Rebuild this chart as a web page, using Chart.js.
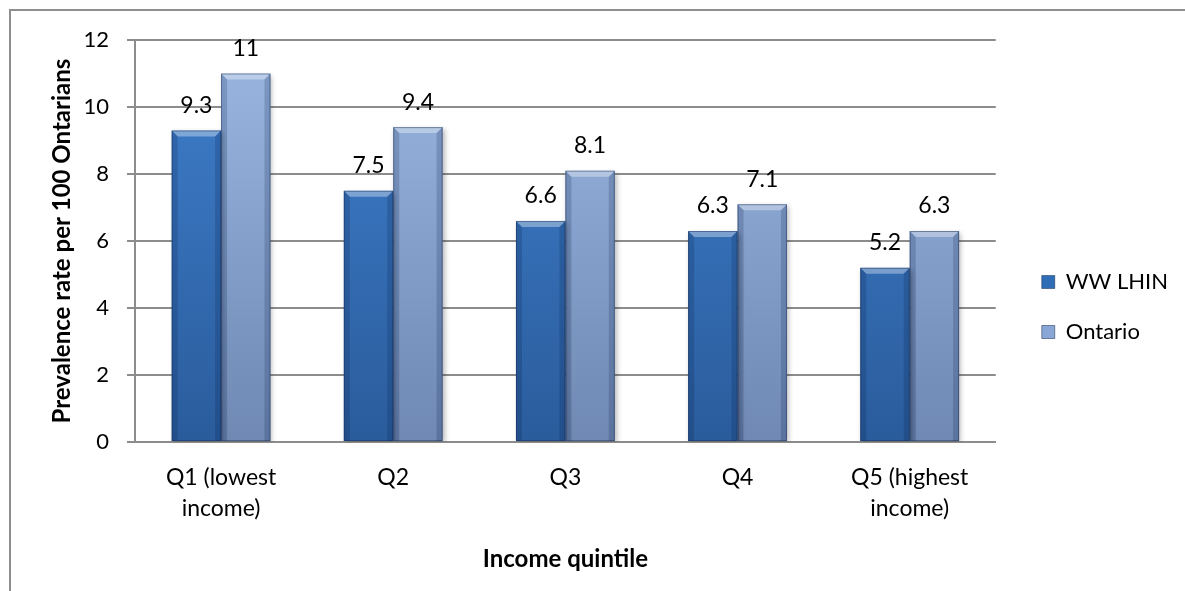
<!DOCTYPE html>
<html>
<head>
<meta charset="utf-8">
<script src="https://cdn.jsdelivr.net/npm/chart.js@4"></script>
<style>
  html, body { margin: 0; padding: 0; background: #fff; overflow: hidden; }
  #frame {
    position: absolute; left: 9px; top: 9px; width: 1200px; height: 620px;
    border: 2px solid #8e8e8e; box-sizing: border-box;
  }
  #wrap { position: absolute; left: 0; top: 0; width: 1185px; height: 591px; }
</style>
</head>
<body>
<div id="frame"></div>
<div id="wrap"><canvas id="mainChart"></canvas></div>
<script>
// -- chart data --
const categories = [["Q1 (lowest", "income)"], "Q2", "Q3", "Q4", ["Q5 (highest", "income)"]];
const wwLhin = [9.3, 7.5, 6.6, 6.3, 5.2];
const ontario = [11, 9.4, 8.1, 7.1, 6.3];
const yTicks = [0, 2, 4, 6, 8, 10, 12];

const FONT = "Lato";
const TEXT_SIZE = 23;

// vertical gradient per series, spanning the chart area
function barGradient(top, bottom) {
  return (context) => {
    const chart = context.chart;
    const area = chart.chartArea;
    if (!area) return top;
    const g = chart.ctx.createLinearGradient(0, area.top, 0, area.bottom);
    g.addColorStop(0, top);
    g.addColorStop(1, bottom);
    return g;
  };
}

// -- soft shadow + bevel on the bars, then the value labels --
const bevelPlugin = {
  id: "bevel",
  beforeDatasetsDraw(chart) {
    const ctx = chart.ctx;
    ctx.save();
    ctx.shadowColor = "rgba(0,0,0,0.28)";
    ctx.shadowBlur = 5;
    ctx.shadowOffsetX = 2;
    ctx.shadowOffsetY = 2;
  },
  afterDatasetsDraw(chart) {
    const ctx = chart.ctx;
    ctx.restore();
    chart.data.datasets.forEach((ds, di) => {
      chart.getDatasetMeta(di).data.forEach((bar) => {
        const p = bar.getProps(["x", "y", "base", "width"], true);
        const l = p.x - p.width / 2, r = p.x + p.width / 2;
        const t = p.y, b = p.base, e = 6;
        ctx.save();
        // top bevel (light)
        ctx.fillStyle = "rgba(255,255,255,0.35)";
        ctx.beginPath();
        ctx.moveTo(l, t); ctx.lineTo(r, t); ctx.lineTo(r - e, t + e); ctx.lineTo(l + e, t + e);
        ctx.closePath(); ctx.fill();
        // side bevels (dark)
        ctx.fillStyle = "rgba(0,20,60,0.18)";
        ctx.beginPath();
        ctx.moveTo(l, t); ctx.lineTo(l + e, t + e); ctx.lineTo(l + e, b); ctx.lineTo(l, b);
        ctx.closePath(); ctx.fill();
        ctx.beginPath();
        ctx.moveTo(r, t); ctx.lineTo(r - e, t + e); ctx.lineTo(r - e, b); ctx.lineTo(r, b);
        ctx.closePath(); ctx.fill();
        // outline
        ctx.strokeStyle = "rgba(20,40,80,0.45)";
        ctx.lineWidth = 1;
        ctx.strokeRect(l + 0.5, t + 0.5, p.width - 1, b - t - 1);
        ctx.restore();
      });
    });
    ctx.save();
    ctx.font = TEXT_SIZE + "px " + FONT;
    ctx.fillStyle = "#000";
    ctx.textAlign = "center";
    ctx.textBaseline = "middle";
    chart.data.datasets.forEach((ds, di) => {
      chart.getDatasetMeta(di).data.forEach((bar, i) => {
        ctx.fillText(String(ds.data[i]), bar.x, bar.y - 25);
      });
    });
    ctx.restore();
  },
};

const ctx = document.getElementById("mainChart").getContext("2d");
new Chart(ctx, {
  type: "bar",
  data: {
    labels: categories,
    datasets: [
      {
        label: "WW LHIN",
        data: wwLhin,
        backgroundColor: barGradient("#3f7fcc", "#2a5c9c"),
        borderWidth: 0,
        categoryPercentage: 0.574,
        barPercentage: 1,
      },
      {
        label: "Ontario",
        data: ontario,
        backgroundColor: barGradient("#9ab7e2", "#6f88b4"),
        borderWidth: 0,
        categoryPercentage: 0.574,
        barPercentage: 1,
      },
    ],
  },
  options: {
    responsive: true,
    maintainAspectRatio: false,
    animation: false,
    devicePixelRatio: 1,
    layout: { padding: { top: 40, left: 48, right: 7, bottom: 17 } },
    plugins: {
      tooltip: { enabled: false },
      legend: {
        position: "right",
        labels: {
          boxWidth: 13,
          boxHeight: 13,
          padding: 28,
          color: "#000",
          font: { family: FONT, size: 22 },
          generateLabels(chart) {
            const fills = ["#2f6db7", "#8aa6d6"];
            return chart.data.datasets.map((ds, i) => ({
              text: ds.label,
              fillStyle: fills[i],
              strokeStyle: "rgba(20,40,80,0.5)",
              lineWidth: 1,
              datasetIndex: i,
            }));
          },
        },
      },
    },
    scales: {
      x: {
        grid: { display: false },
        border: { color: "#8c8c8c", width: 2 },
        ticks: {
          color: "#000",
          font: { family: FONT, size: TEXT_SIZE, lineHeight: 1.35 },
          padding: 12,
          maxRotation: 0,
        },
        title: {
          display: true,
          text: "Income quintile",
          color: "#000",
          font: { family: FONT, size: 24, weight: "bold", lineHeight: 1.2 },
          padding: { top: 9, bottom: 0 },
        },
      },
      y: {
        min: 0,
        max: 12,
        afterBuildTicks(axis) {
          axis.ticks = yTicks.map((v) => ({ value: v }));
        },
        afterFit(axis) {
          axis.width = 87;
        },
        grid: { color: "#8c8c8c", lineWidth: 2, tickLength: 8 },
        border: { color: "#8c8c8c", width: 2 },
        ticks: {
          color: "#000",
          font: { family: FONT, size: 22 },
          padding: 18,
        },
        title: {
          display: true,
          text: "Prevalence rate per 100 Ontarians",
          color: "#000",
          font: { family: FONT, size: 24, weight: "bold", lineHeight: 1.2 },
          padding: { top: 0, bottom: 0 },
        },
      },
      // empty spacer between plot area and legend
      gap: {
        position: "right",
        display: true,
        grid: { display: false, drawTicks: false },
        border: { display: false },
        ticks: { display: false },
        afterFit(axis) {
          axis.width = 18;
        },
      },
    },
  },
  plugins: [bevelPlugin],
});
</script>
</body>
</html>
